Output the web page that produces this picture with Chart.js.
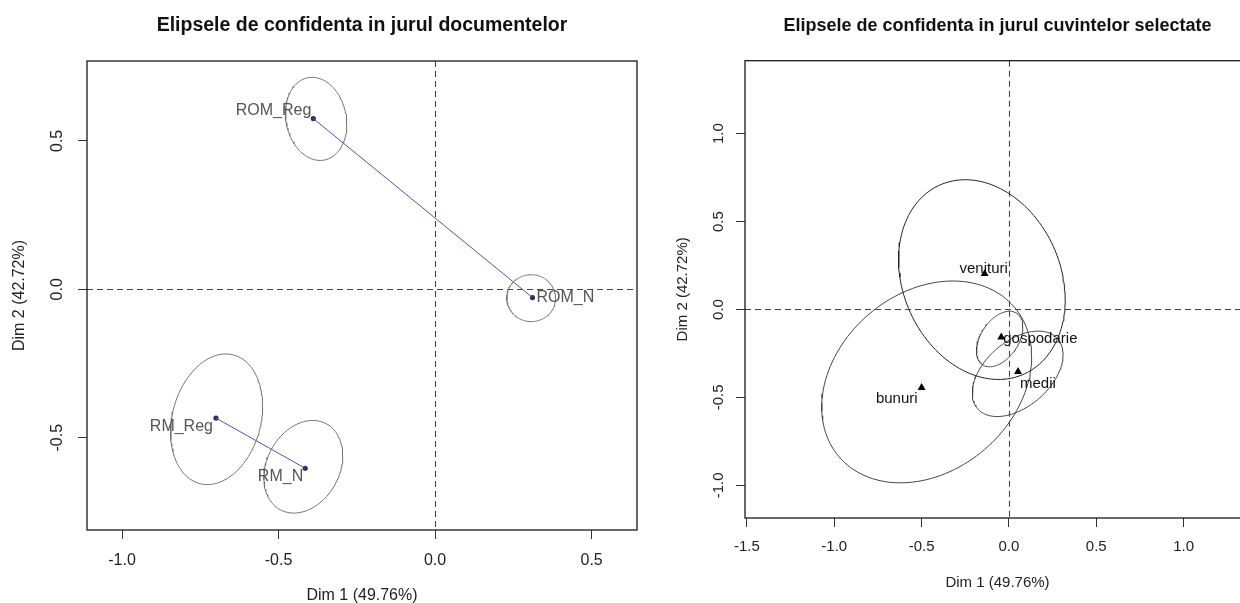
<!DOCTYPE html>
<html>
<head>
<meta charset="utf-8">
<script src="https://cdn.jsdelivr.net/npm/chart.js@4.4.1/dist/chart.umd.min.js"></script>
<style>
    html, body { margin: 0; padding: 0; background: #fff; width: 1240px; height: 603px; overflow: hidden; }
    .panel { position: absolute; top: 0; height: 603px; }
    #gauche { left: 0; width: 660px; }
    #droite { left: 640px; width: 650px; }
</style>
</head>
<body>
<div class="panel" id="gauche"><canvas id="canvasDocs"></canvas></div>
<div class="panel" id="droite"><canvas id="canvasMots"></canvas></div>
<script>
// --- panneau gauche : documents ---
const docNoms = ["ROM_Reg", "ROM_N", "RM_Reg", "RM_N"]
const docDim1 = [-0.389, 0.311, -0.700, -0.415]
const docDim2 = [0.575, -0.028, -0.434, -0.603]
// ellipses : centre, demi-etendue x / y, correlation
const docEllCx = [-0.380, 0.307, -0.698, -0.421]
const docEllCy = [0.574, -0.030, -0.438, -0.598]
const docEllSx = [0.098, 0.078, 0.147, 0.126]
const docEllSy = [0.140, 0.079, 0.220, 0.156]
const docEllRho = [-0.13, 0.0, 0.20, 0.24]
const docLiens = [[0, 1], [2, 3]]
const docTicksX = [-1.0, -0.5, 0.0, 0.5]
const docTicksY = [-0.5, 0.0, 0.5]
const docLabelsX = ["-1.0", "-0.5", "0.0", "0.5"]
const docLabelsY = ["-0.5", "0.0", "0.5"]

// --- panneau droit : cuvinte ---
const motNoms = ["venituri", "gospodarie", "medii", "bunuri"]
const motDim1 = [-0.139, -0.044, 0.052, -0.500]
const motDim2 = [0.203, -0.157, -0.354, -0.445]
const motEllCx = [-0.155, -0.053, 0.050, -0.471]
const motEllCy = [0.170, -0.168, -0.366, -0.412]
const motEllSx = [0.477, 0.133, 0.260, 0.601]
const motEllSy = [0.568, 0.158, 0.243, 0.574]
const motEllRho = [-0.20, 0.43, 0.45, 0.25]
const motTicksX = [-1.5, -1.0, -0.5, 0.0, 0.5, 1.0]
const motTicksY = [-1.0, -0.5, 0.0, 0.5, 1.0]
const motLabelsX = ["-1.5", "-1.0", "-0.5", "0.0", "0.5", "1.0"]
const motLabelsY = ["-1.0", "-0.5", "0.0", "0.5", "1.0"]

const Police = "'Liberation Sans', Arial, sans-serif"

function PointsEllipse(cx, cy, sx, sy, rho) {
    let pts = []
    let n = 140
    for (let i = 0; i <= n; i++) {
        let t = i / n * 2 * Math.PI
        pts.push({
            x: cx + sx * Math.cos(t),
            y: cy + sy * (rho * Math.cos(t) + Math.sqrt(1 - rho * rho) * Math.sin(t))
        })
    }
    return pts
}

// plugin : axes pointilles, boite, etiquettes, ticks y tournes (style R)
const DecorR = {
    id: "decorR",
    beforeDatasetsDraw(chart, args, o) {
        const { ctx, chartArea: a, scales: { x, y } } = chart
        ctx.save()
        ctx.strokeStyle = "#444"
        ctx.lineWidth = 1.1
        ctx.setLineDash([6, 4])
        let px = Math.round(x.getPixelForValue(0)) + 0.5
        let py = Math.round(y.getPixelForValue(0)) + 0.5
        ctx.beginPath()
        ctx.moveTo(px, a.top); ctx.lineTo(px, a.bottom)
        ctx.moveTo(a.left, py); ctx.lineTo(a.right, py)
        ctx.stroke()
        ctx.restore()
    },
    afterDatasetsDraw(chart, args, o) {
        const { ctx, scales: { x, y } } = chart
        ctx.save()
        ctx.font = o.taille + "px " + Police
        ctx.fillStyle = o.couleur
        ctx.textBaseline = "middle"
        o.noms.forEach((nom, i) => {
            let d = o.decalages[i]
            ctx.textAlign = d[0]
            ctx.fillText(nom, x.getPixelForValue(o.xs[i]) + d[1], y.getPixelForValue(o.ys[i]) + d[2])
        })
        ctx.restore()
    },
    afterDraw(chart, args, o) {
        const { ctx, chartArea: a, scales: { y } } = chart
        ctx.save()
        ctx.strokeStyle = "#1a1a1a"
        ctx.lineWidth = 1.3
        ctx.strokeRect(a.left, a.top, a.right - a.left, a.bottom - a.top)
        // labels axe y verticaux
        ctx.font = o.tailleTicks + "px " + Police
        ctx.fillStyle = "#222"
        ctx.textAlign = "center"
        ctx.textBaseline = "middle"
        y.ticks.forEach((t, i) => {
            ctx.save()
            ctx.translate(a.left - o.ecartY, y.getPixelForValue(t.value))
            ctx.rotate(-Math.PI / 2)
            ctx.fillText(o.labelsY[i], 0, 0)
            ctx.restore()
        })
        ctx.restore()
    }
}

function Echelles(xMin, xMax, yMin, yMax, ticksX, ticksY, labelsX, largeurY, hauteurX, padTitreY, padTitreX, taille, padTicks) {
    return {
        x: {
            type: "linear", position: "bottom", min: xMin, max: xMax,
            afterBuildTicks: s => { s.ticks = ticksX.map(v => ({ value: v })) },
            afterFit: s => { s.height = hauteurX },
            ticks: { callback: (v, i) => labelsX[i], font: { size: taille, family: Police }, color: "#222", padding: padTicks, maxRotation: 0, autoSkip: false },
            grid: { drawOnChartArea: false, drawTicks: true, tickLength: 9, tickColor: "#333", tickWidth: 1 },
            border: { display: false },
            title: { display: true, text: "Dim 1 (49.76%)", font: { size: taille, family: Police }, color: "#222", padding: { top: 0, bottom: padTitreX } }
        },
        y: {
            type: "linear", position: "left", min: yMin, max: yMax,
            afterBuildTicks: s => { s.ticks = ticksY.map(v => ({ value: v })) },
            afterFit: s => { s.width = largeurY },
            ticks: { display: false },
            grid: { drawOnChartArea: false, drawTicks: true, tickLength: 9, tickColor: "#333", tickWidth: 1 },
            border: { display: false },
            title: { display: true, text: "Dim 2 (42.72%)", font: { size: taille, family: Police }, color: "#222", padding: { top: padTitreY, bottom: 0 } }
        }
    }
}

function Initialisation() {
    // ---- documents ----
    let dsDocs = []
    docEllCx.forEach((c, i) => {
        dsDocs.push({
            data: PointsEllipse(c, docEllCy[i], docEllSx[i], docEllSy[i], docEllRho[i]),
            showLine: true, borderColor: "#707070", borderWidth: 1, pointRadius: 0, fill: false
        })
    })
    docLiens.forEach(l => {
        dsDocs.push({
            data: l.map(k => ({ x: docDim1[k], y: docDim2[k] })),
            showLine: true, borderColor: "#5050b8", borderWidth: 1, pointRadius: 0, fill: false
        })
    })
    dsDocs.push({
        data: docNoms.map((n, i) => ({ x: docDim1[i], y: docDim2[i] })),
        pointRadius: 2.6, pointBackgroundColor: "#2c2c5a", pointBorderWidth: 0, showLine: false
    })

    new Chart(document.getElementById("canvasDocs"), {
        type: "scatter",
        data: { datasets: dsDocs },
        options: {
            responsive: true, maintainAspectRatio: false, animation: false,
            layout: { padding: { left: 0, right: 23, top: 0, bottom: 0 } },
            plugins: {
                legend: { display: false },
                tooltip: { enabled: false },
                title: {
                    display: true, text: "Elipsele de confidenta in jurul documentelor", fullSize: false,
                    font: { size: 19.5, weight: "bold", family: Police }, color: "#111",
                    padding: { top: 14, bottom: 23.6 }
                },
                decorR: {
                    noms: docNoms, xs: docDim1, ys: docDim2, couleur: "#555", taille: 16,
                    decalages: [["right", -2, -8], ["left", 4, 0], ["right", -3, 9], ["right", -2, 8]],
                    labelsY: docLabelsY, tailleTicks: 16, ecartY: 29
                }
            },
            scales: Echelles(-1.112, 0.645, -0.811, 0.769, docTicksX, docTicksY, docLabelsX, 87, 73, 10, -2, 16, 12)
        },
        plugins: [DecorR]
    })

    // ---- cuvinte ----
    let dsMots = []
    motEllCx.forEach((c, i) => {
        dsMots.push({
            data: PointsEllipse(c, motEllCy[i], motEllSx[i], motEllSy[i], motEllRho[i]),
            showLine: true, borderColor: i === 0 ? "#222" : "#444", borderWidth: 1, pointRadius: 0, fill: false
        })
    })
    dsMots.push({
        data: motNoms.map((n, i) => ({ x: motDim1[i], y: motDim2[i] })),
        pointStyle: "triangle", pointRadius: 4.6, pointBackgroundColor: "#000", pointBorderWidth: 0, showLine: false
    })

    new Chart(document.getElementById("canvasMots"), {
        type: "scatter",
        data: { datasets: dsMots },
        options: {
            responsive: true, maintainAspectRatio: false, animation: false,
            layout: { padding: { left: 0, right: 40, top: 0, bottom: 10 } },
            plugins: {
                legend: { display: false },
                tooltip: { enabled: false },
                title: {
                    display: true, text: "Elipsele de confidenta in jurul cuvintelor selectate", fullSize: false,
                    font: { size: 18, weight: "bold", family: Police }, color: "#111",
                    padding: { top: 15, bottom: 24.1 }
                },
                decorR: {
                    noms: motNoms, xs: motDim1, ys: motDim2, couleur: "#111", taille: 15,
                    decalages: [["center", -1, -5], ["left", 2, 2], ["left", 2, 12], ["right", -4, 11]],
                    labelsY: motLabelsY, tailleTicks: 15, ecartY: 26
                }
            },
            scales: Echelles(-1.511, 1.38, -1.186, 1.415, motTicksX, motTicksY, motLabelsX, 105, 75, 34, 1.3, 15, 11)
        },
        plugins: [DecorR]
    })
}

window.addEventListener("DOMContentLoaded", () => {
    Initialisation()
})
</script>
</body>
</html>
